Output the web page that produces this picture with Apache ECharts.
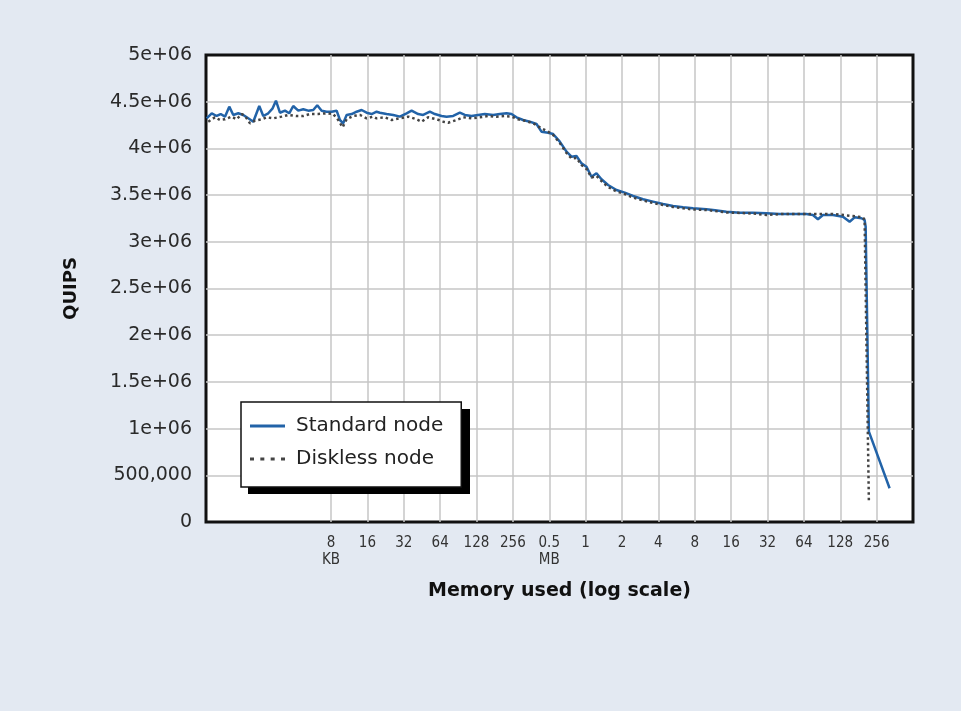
<!DOCTYPE html>
<html>
<head>
<meta charset="utf-8">
<style>
html,body{margin:0;padding:0;background:#e3e9f2;}
#chart{width:961px;height:711px;}
</style>
<script src="https://cdn.jsdelivr.net/npm/echarts@6/dist/echarts.min.js"></script>
</head>
<body>
<div id="chart"></div>
<script>
// Memory used, in KB (log scale)
const standardKB = [0.75, 0.825, 0.907, 0.979, 1.063, 1.153, 1.245, 1.369, 1.506, 1.656,
  1.822, 2.042, 2.204, 2.424, 2.635, 2.807, 3.029, 3.332, 3.615, 3.901,
  4.293, 4.721, 5.191, 5.712, 6.164, 6.703, 7.372, 8.107, 8.918, 9.496,
  10.11, 10.79, 11.87, 13.05, 14.35, 15.79, 17.36, 19.10, 20.34, 23.10,
  26.21, 29.78, 33.83, 37.20, 42.18, 46.39, 52.70, 57.97, 65.85, 72.45,
  82.14, 93.31, 102.6, 116.6, 132.2, 150.2, 176.0, 199.9, 227.1, 249.7,
  274.7, 311.5, 353.9, 402.0, 442.0, 501.5, 551.4, 626.4, 711.8, 783.2,
  861.1, 947.0, 1042, 1146, 1260, 1386, 1572, 1844, 2160, 2530,
  3061, 3702, 4479, 5419, 6557, 7930, 10230, 11610, 14980, 19300,
  24870, 32090, 41330, 53270, 68740, 77890, 85700, 94300, 114000, 138000,
  156700, 172500, 196000, 208500, 212700, 226300, 335700];
const standardQuips = [4322000, 4376000, 4347000, 4368000, 4340000, 4447000, 4358000, 4376000, 4358000, 4322000,
  4286000, 4454000, 4347000, 4376000, 4429000, 4511000, 4382000, 4404000, 4376000, 4454000,
  4404000, 4419000, 4404000, 4411000, 4462000, 4404000, 4393000, 4393000, 4404000, 4304000,
  4269000, 4358000, 4368000, 4393000, 4411000, 4382000, 4368000, 4393000, 4382000, 4368000,
  4358000, 4340000, 4376000, 4404000, 4368000, 4358000, 4393000, 4368000, 4347000, 4340000,
  4347000, 4382000, 4358000, 4347000, 4358000, 4368000, 4358000, 4368000, 4376000, 4368000,
  4333000, 4304000, 4286000, 4261000, 4179000, 4168000, 4154000, 4072000, 3965000, 3911000,
  3919000, 3840000, 3804000, 3697000, 3734000, 3669000, 3608000, 3555000, 3526000, 3491000,
  3455000, 3430000, 3405000, 3383000, 3370000, 3359000, 3348000, 3341000, 3322000, 3312000,
  3312000, 3305000, 3298000, 3298000, 3298000, 3287000, 3241000, 3287000, 3287000, 3269000,
  3215000, 3262000, 3252000, 3234000, 3162000, 967000, 361000];

const disklessKB = [0.773, 0.878, 0.966, 1.063, 1.207, 1.328, 1.461, 1.555, 1.711, 1.882,
  2.138, 2.352, 2.667, 3.129, 3.548, 4.164, 4.721, 5.363, 6.281, 7.372,
  8.358, 9.196, 9.995, 10.79, 12.23, 13.90, 15.79, 17.91, 19.10, 22.37,
  25.42, 29.78, 34.88, 40.91, 45.00, 51.02, 59.88, 67.89, 74.69, 87.62,
  99.36, 116.6, 136.5, 159.9, 187.7, 219.8, 249.7, 283.2, 321.8, 376.9,
  442.0, 501.5, 551.4, 626.4, 711.8, 783.2, 861.1, 947.0, 1042, 1146,
  1260, 1386, 1572, 1844, 2160, 2530, 3061, 3702, 4479, 5419,
  6557, 7930, 10230, 14980, 19300, 24870, 32090, 44020, 73170, 114000,
  166900, 201900, 208500, 226300];
const disklessQuips = [4286000, 4333000, 4304000, 4312000, 4340000, 4312000, 4368000, 4347000, 4269000, 4297000,
  4312000, 4333000, 4322000, 4340000, 4358000, 4347000, 4347000, 4368000, 4368000, 4376000,
  4368000, 4304000, 4226000, 4312000, 4347000, 4358000, 4322000, 4340000, 4322000, 4333000,
  4304000, 4322000, 4340000, 4312000, 4286000, 4333000, 4312000, 4286000, 4275000, 4304000,
  4333000, 4322000, 4333000, 4347000, 4340000, 4347000, 4340000, 4312000, 4297000, 4269000,
  4215000, 4179000, 4144000, 4058000, 3951000, 3892000, 3897000, 3822000, 3780000, 3689000,
  3705000, 3651000, 3587000, 3539000, 3512000, 3474000, 3442000, 3416000, 3394000, 3373000,
  3359000, 3346000, 3341000, 3314000, 3309000, 3303000, 3287000, 3298000, 3298000, 3298000,
  3276000, 3262000, 3234000, 200000];

// x tick labels (value in KB -> label)
const xTickKB = [8, 16, 32, 64, 128, 256, 512, 1024, 2048, 4096, 8192, 16384, 32768, 65536, 131072, 262144];
const xTickLabels = ['8\nKB', '16', '32', '64', '128', '256', '0.5\nMB', '1', '2', '4', '8', '16', '32', '64', '128', '256'];

const seriesNames = ['Standard node', 'Diskless node'];

const chart = echarts.init(document.getElementById('chart'), null, {renderer: 'canvas'});

const FONT = '"DejaVu Sans", "Open Sans", sans-serif';
const COND = '"DejaVu Sans Condensed", "Liberation Sans Narrow", "DejaVu Sans", sans-serif';

function pairs(xs, ys) { return xs.map((x, i) => [x, ys[i]]); }

const SOLID_ICON = 'path://M0,0h35v3h-35z';
const DOT_ICON = 'path://M0,0h4v3h-4z M10.33,0h4v3h-4z M20.67,0h4v3h-4z M31,0h4v3h-4z';

const option = {
  backgroundColor: '#e3e9f2',
  animation: false,
  grid: [
    {left: 206, right: 48, top: 55, bottom: 189, show: true, backgroundColor: '#ffffff',
     borderColor: '#111111', borderWidth: 3, containLabel: false, outerBoundsMode: 'none'},
    {left: 331, right: 48, top: 55, bottom: 189, show: false, containLabel: false, outerBoundsMode: 'none'}
  ],
  graphic: [
    {type: 'rect', z: 3, silent: true, shape: {x: 248, y: 409, width: 222, height: 85}, style: {fill: '#000000'}}
  ],
  legend: {
    data: [{name: seriesNames[0], icon: SOLID_ICON}, {name: seriesNames[1], icon: DOT_ICON}],
    orient: 'vertical',
    left: 241, top: 402, z: 5,
    padding: [13, 18, 17, 9],
    itemGap: 11,
    itemWidth: 35, itemHeight: 3,
    backgroundColor: '#ffffff',
    borderColor: '#111111', borderWidth: 1.5, borderRadius: 0,
    itemStyle: {borderWidth: 0},
    textStyle: {fontFamily: FONT, fontSize: 20, color: '#222', lineHeight: 22, padding: [0, 0, 0, 6]}
  },
  xAxis: [
    {type: 'log', logBase: 2, gridIndex: 0, min: 0.7402, max: 524288,
     axisLine: {show: false}, axisTick: {show: false}, axisLabel: {show: false}, splitLine: {show: false},
     name: 'Memory used (log scale)', nameLocation: 'middle', nameGap: 60,
     nameTextStyle: {fontFamily: FONT, fontSize: 19, fontWeight: 'bold', color: '#111'}},
    {type: 'log', logBase: 2, gridIndex: 1, min: 8, max: 524288, interval: 1,
     axisLine: {show: false}, axisTick: {show: false},
     splitLine: {show: true, showMaxLine: false, lineStyle: {color: '#c6c6c6', width: 1.5}},
     axisLabel: {show: true, margin: 13, fontFamily: COND, fontSize: 15, color: '#333', lineHeight: 17,
       showMinLabel: true, showMaxLabel: true, hideOverlap: false,
       formatter: function (v) {
         for (let i = 0; i < xTickKB.length; i++) {
           if (Math.abs(v - xTickKB[i]) / xTickKB[i] < 0.01) return xTickLabels[i];
         }
         return '';
       }}}
  ],
  yAxis: [
    {type: 'value', gridIndex: 0, min: 0, max: 5000000, interval: 500000,
     axisLine: {show: false}, axisTick: {show: false},
     splitLine: {show: true, showMinLine: false, showMaxLine: false, lineStyle: {color: '#c6c6c6', width: 1.5}},
     axisLabel: {margin: 14, fontFamily: FONT, fontSize: 19, color: '#2a2a2a',
       formatter: function (v) {
         if (v === 0) return '0';
         if (v < 1000000) return (v / 1000) + ',000';
         return (v / 1000000) + 'e+06';
       }},
     name: 'QUIPS', nameLocation: 'middle', nameGap: 126, nameRotate: 90,
     nameTextStyle: {fontFamily: FONT, fontSize: 18, fontWeight: 'bold', color: '#111'}},
    {type: 'value', gridIndex: 1, min: 0, max: 5000000, show: false}
  ],
  series: [
    {name: seriesNames[0], type: 'line', xAxisIndex: 0, yAxisIndex: 0, symbol: 'none',
     data: pairs(standardKB, standardQuips),
     lineStyle: {color: '#2263a8', width: 2.5}, itemStyle: {color: '#2263a8'}, z: 3},
    {name: seriesNames[1], type: 'line', xAxisIndex: 0, yAxisIndex: 0, symbol: 'none',
     data: pairs(disklessKB, disklessQuips),
     lineStyle: {color: '#444444', width: 2.5, type: [2.5, 3]}, itemStyle: {color: '#444444'}, z: 4}
  ]
};
chart.setOption(option);
</script>
</body>
</html>
